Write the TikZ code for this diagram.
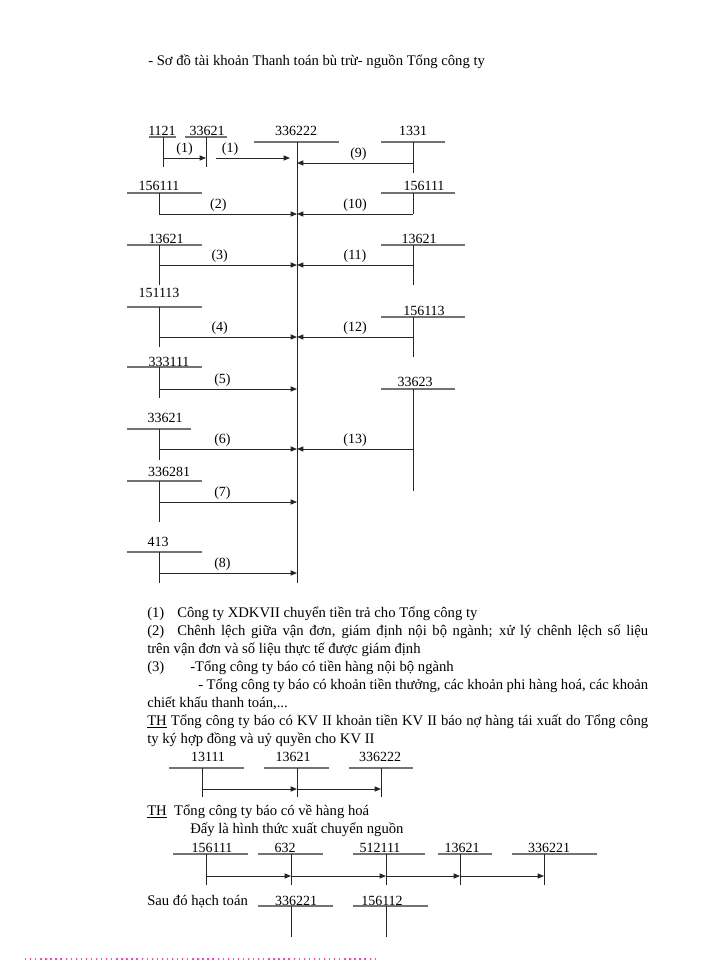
\documentclass[tikz,border=0pt]{standalone}
\usepackage{fontspec}
\setmainfont{Liberation Serif}
\usetikzlibrary{arrows.meta}
\newcommand{\bodyfont}{\fontsize{11}{13}\selectfont}
\newcommand{\acctfont}{\fontsize{10.5}{12}\selectfont}
\tikzset{
    > = {Triangle[length = 4.8pt, width = 3.8pt]},
    num/.style = {font = \acctfont, inner sep = 0pt},
    tline/.style = {draw = black!55, line width = 0.8pt},
    vline/.style = {draw = black!85, line width = 0.75pt},
    flow/.style = {->, draw = black!85, line width = 0.75pt},
    lab/.style = {above = 1.2pt, inner sep = 0pt, font = \acctfont},
    txt/.style = {anchor = base west, inner sep = 0pt, font = \bodyfont}
}

\begin{document}
\begin{tikzpicture}[x = 0.75pt, y = -0.75pt]
    \useasboundingbox (0, 0) rectangle (700, 960);

    \node[txt] (title) at (148, 65) {- Sơ đồ tài khoản Thanh toán bù trừ- nguồn Tổng công ty};

    % tai khoan 336222
    \node[num] (M) at (296, 131) {336222};
    \draw[tline] (254, 142) -- (339, 142);
    \draw[vline] (297, 142) -- (297, 583);
    \coordinate (m) at (297, 142);

    % ben no
    \node[num] (n1121) at (162, 131) {1121};
    \draw[tline] (149, 137) -- (176, 137);
    \draw[vline] (163, 137) -- (163, 167);
    \node[num] (n33621) at (207, 131) {33621};
    \draw[tline] (185, 137) -- (227, 137);
    \draw[vline] (206, 137) -- (206, 167);
    \coordinate (L1) at (163, 158);
    \coordinate (T1) at (206, 158);
    \coordinate (S1) at (216, 158);
    \coordinate (E1) at (290, 158);
    \draw[flow] (L1) -- (T1) node[lab, midway] {(1)};
    \draw[flow] (S1) -- (E1) node[lab, pos = 0.19] {(1)};

    \node[num] (L2n) at (159, 186) {156111};
    \draw[tline] (127, 193) -- (202, 193);
    \draw[vline] (159, 193) -- (159, 214);
    \coordinate (L2) at (159, 214);
    \draw[flow] (L2) -- (L2 -| m) node[lab, pos = 0.43] {(2)};

    \node[num] (L3n) at (166, 239) {13621};
    \draw[tline] (127, 245) -- (202, 245);
    \draw[vline] (159, 245) -- (159, 285);
    \coordinate (L3) at (159, 265);
    \draw[flow] (L3) -- (L3 -| m) node[lab, pos = 0.44] {(3)};

    \node[num] (L4n) at (159, 293) {151113};
    \draw[tline] (127, 307) -- (202, 307);
    \draw[vline] (159, 307) -- (159, 347);
    \coordinate (L4) at (159, 337);
    \draw[flow] (L4) -- (L4 -| m) node[lab, pos = 0.44] {(4)};

    \node[num] (L5n) at (169, 362) {333111};
    \draw[tline] (127, 367) -- (202, 367);
    \draw[vline] (159, 367) -- (159, 398);
    \coordinate (L5) at (159, 389);
    \draw[flow] (L5) -- (L5 -| m) node[lab, pos = 0.46] {(5)};

    \node[num] (L6n) at (165, 418) {33621};
    \draw[tline] (127, 429) -- (191, 429);
    \draw[vline] (159, 429) -- (159, 460);
    \coordinate (L6) at (159, 449);
    \draw[flow] (L6) -- (L6 -| m) node[lab, pos = 0.46] {(6)};

    \node[num] (L7n) at (169, 472) {336281};
    \draw[tline] (127, 481) -- (202, 481);
    \draw[vline] (159, 481) -- (159, 522);
    \coordinate (L7) at (159, 502);
    \draw[flow] (L7) -- (L7 -| m) node[lab, pos = 0.46] {(7)};

    \node[num] (L8n) at (158, 542) {413};
    \draw[tline] (127, 552) -- (202, 552);
    \draw[vline] (159, 552) -- (159, 583);
    \coordinate (L8) at (159, 573);
    \draw[flow] (L8) -- (L8 -| m) node[lab, pos = 0.46] {(8)};

    % ben co
    \node[num] (R9n) at (413, 131) {1331};
    \draw[tline] (381, 142) -- (445, 142);
    \draw[vline] (413, 142) -- (413, 173);
    \coordinate (R9) at (413, 163);
    \draw[flow] (R9) -- (R9 -| m) node[lab, pos = 0.47] {(9)};

    \node[num] (R10n) at (424, 186) {156111};
    \draw[tline] (381, 193) -- (455, 193);
    \draw[vline] (413, 193) -- (413, 214);
    \coordinate (R10) at (413, 214);
    \draw[flow] (R10) -- (R10 -| m) node[lab, pos = 0.5] {(10)};

    \node[num] (R11n) at (419, 239) {13621};
    \draw[tline] (381, 245) -- (465, 245);
    \draw[vline] (413, 245) -- (413, 285);
    \coordinate (R11) at (413, 265);
    \draw[flow] (R11) -- (R11 -| m) node[lab, pos = 0.5] {(11)};

    \node[num] (R12n) at (424, 311) {156113};
    \draw[tline] (381, 317) -- (465, 317);
    \draw[vline] (413, 317) -- (413, 357);
    \coordinate (R12) at (413, 337);
    \draw[flow] (R12) -- (R12 -| m) node[lab, pos = 0.5] {(12)};

    \node[num] (R13n) at (415, 382) {33623};
    \draw[tline] (381, 389) -- (455, 389);
    \draw[vline] (413, 389) -- (413, 491);
    \coordinate (R13) at (413, 449);
    \draw[flow] (R13) -- (R13 -| m) node[lab, pos = 0.5] {(13)};

    % giai thich
    \node[txt] (k1) at (147, 617) {(1)};
    \node[txt] (t1) at (177, 617) {Công ty XDKVII chuyển tiền trả cho Tổng công ty};
    \node[txt] (k2) at (147, 635) {(2)};
    \node[txt] (t2) at (177, 635) {\makebox[353.25pt][s]{Chênh lệch giữa vận đơn, giám định nội bộ ngành; xử lý chênh lệch số liệu}};
    \node[txt] (t2b) at (147, 653) {trên vận đơn và số liệu thực tế được giám định};
    \node[txt] (k3) at (147, 671) {(3)};
    \node[txt] (t3) at (190, 671) {-Tổng công ty báo có tiền hàng nội bộ ngành};
    \node[txt] (t3b) at (198, 689) {\makebox[337.5pt][s]{- Tổng công ty báo có khoản tiền thưởng, các khoản phi hàng hoá, các khoản}};
    \node[txt] (t3c) at (147, 707) {chiết khấu thanh toán,...};
    \node[txt] (th1) at (147, 725) {\makebox[375.75pt][s]{\underline{TH} Tổng công ty báo có KV II khoản tiền KV II báo nợ hàng tái xuất do Tổng công}};
    \node[txt] (th1b) at (147, 743) {ty ký hợp đồng và uỷ quyền cho KV II};

    % so do KV II
    \node[num] (A1n) at (208, 757) {13111};
    \draw[tline] (169, 768) -- (244, 768);
    \draw[vline] (202, 768) -- (202, 797);
    \node[num] (A2n) at (293, 757) {13621};
    \draw[tline] (264, 768) -- (329, 768);
    \draw[vline] (297, 768) -- (297, 797);
    \node[num] (A3n) at (380, 757) {336222};
    \draw[tline] (349, 768) -- (413, 768);
    \draw[vline] (381, 768) -- (381, 797);
    \coordinate (A1) at (202, 789);
    \coordinate (A2) at (297, 789);
    \coordinate (A3) at (381, 789);
    \draw[flow] (A1) -- (A2);
    \draw[flow] (A2) -- (A3);

    \node[txt] (th2) at (147, 815) {\underline{TH}\ \ Tổng công ty báo có về hàng hoá};
    \node[txt] (th2b) at (190, 833) {Đấy là hình thức xuất chuyển nguồn};

    % xuat chuyen nguon
    \node[num] (B1n) at (212, 848) {156111};
    \draw[tline] (173, 854) -- (248, 854);
    \draw[vline] (206, 854) -- (206, 885);
    \node[num] (B2n) at (285, 848) {632};
    \draw[tline] (258, 854) -- (323, 854);
    \draw[vline] (291, 854) -- (291, 885);
    \node[num] (B3n) at (380, 848) {512111};
    \draw[tline] (353, 854) -- (425, 854);
    \draw[vline] (386, 854) -- (386, 885);
    \node[num] (B4n) at (462, 848) {13621};
    \draw[tline] (438, 854) -- (492, 854);
    \draw[vline] (460, 854) -- (460, 885);
    \node[num] (B5n) at (549, 848) {336221};
    \draw[tline] (512, 854) -- (597, 854);
    \draw[vline] (544, 854) -- (544, 885);
    \coordinate (B1) at (206, 876);
    \coordinate (B2) at (291, 876);
    \coordinate (B3) at (386, 876);
    \coordinate (B4) at (460, 876);
    \coordinate (B5) at (544, 876);
    \draw[flow] (B1) -- (B2);
    \draw[flow] (B2) -- (B3);
    \draw[flow] (B3) -- (B4);
    \draw[flow] (B4) -- (B5);

    \node[txt] (sau) at (147, 905) {Sau đó hạch toán};
    \node[num] (C1n) at (296, 901) {336221};
    \draw[tline] (258, 906) -- (333, 906);
    \draw[vline] (291, 906) -- (291, 937);
    \node[num] (C2n) at (382, 901) {156112};
    \draw[tline] (353, 906) -- (428, 906);
    \draw[vline] (386, 906) -- (386, 937);

    \draw[magenta!70, line width = 1pt, dash pattern = on 1pt off 2.8pt] (25, 959) -- (375, 959);
\end{tikzpicture}
\end{document}
